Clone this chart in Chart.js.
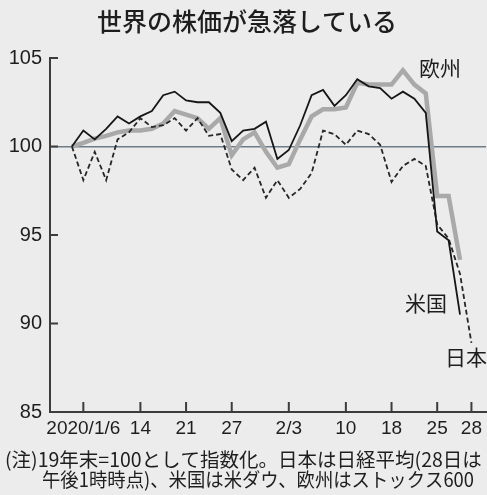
<!DOCTYPE html>
<html>
<head>
<meta charset="utf-8">
<script src="https://cdn.jsdelivr.net/npm/chart.js@4"></script>
<style>
  html, body { margin: 0; padding: 0; background: #ececec; }
  #wrap { width: 487px; height: 495px; position: relative; }
</style>
</head>
<body>
<div id="wrap"><canvas id="c" width="487" height="495"></canvas></div>
<script>
// trading days (common to JP/US), first = 19年末
const dates = ['12/30', '1/6', '1/7', '1/8', '1/9', '1/10', '1/14', '1/15', '1/16', '1/17',
  '1/21', '1/22', '1/23', '1/24', '1/27', '1/28', '1/29', '1/30', '1/31',
  '2/3', '2/4', '2/5', '2/6', '2/7', '2/10', '2/12', '2/13', '2/14',
  '2/18', '2/19', '2/20', '2/21', '2/25', '2/26', '2/27', '2/28'];

const tickDates  = ['1/6', '1/14', '1/21', '1/27', '2/3', '2/10', '2/18', '2/25', '2/28'];
const tickLabels = ['2020/1/6', '14', '21', '27', '2/3', '10', '18', '25', '28'];
const yTicks = [85, 90, 95, 100, 105];

const japan = [100, 98.1, 99.7, 98.1, 100.4, 100.8, 101.6, 101.1, 101.2, 101.6,
  100.9, 101.6, 100.6, 100.7, 98.7, 98.1, 98.8, 97.1, 98.1,
  97.1, 97.6, 98.5, 100.9, 100.7, 100.1, 100.9, 100.7, 100.1,
  98.0, 98.9, 99.3, 98.9, 95.6, 94.8, 92.8, 88.9];

const usa = [100, 100.9, 100.4, 101.0, 101.7, 101.3, 101.7, 102.0, 102.9, 103.1,
  102.6, 102.5, 102.5, 101.9, 100.3, 100.9, 101.0, 101.4, 99.3,
  99.8, 101.2, 102.9, 103.2, 102.3, 102.9, 103.8, 103.4, 103.3,
  102.7, 103.1, 102.7, 101.9, 95.2, 94.7, 90.5, null];

const europe = [100, 100.2, 100.45, 100.6, 100.8, 100.9, 100.9, 101.0, 101.3, 102.0,
  101.8, 101.6, 101.0, 101.6, 99.5, 100.4, 100.8, 99.7, 98.8,
  99.0, 100.4, 101.7, 102.1, 102.1, 102.2, 103.6, 103.5, 103.5,
  103.5, 104.3, 103.5, 103.0, 97.2, 97.2, 93.6, null];

const seriesNames = ['欧州', '米国', '日本'];

const INK = '#1e1e1e';
const AXIS = '#3c3c3c';
const REF = '#6d7c88';
const JP_FONT = '"Noto Sans CJK JP", "Noto Sans", sans-serif';
const NUM_FONT = '"Liberation Sans", Arial, sans-serif';

const pts = arr => arr.map((v, i) => ({ x: i, y: v }));

const overlay = {
  id: 'overlay',
  afterDraw(chart) {
    const { ctx, chartArea: a, scales: { x, y } } = chart;
    ctx.save();
    // inward tick marks
    ctx.strokeStyle = AXIS;
    ctx.lineWidth = 2;
    yTicks.forEach(v => {
      const py = y.getPixelForValue(v);
      ctx.beginPath(); ctx.moveTo(a.left, py); ctx.lineTo(a.left + 8, py); ctx.stroke();
    });
    tickDates.forEach(d => {
      const px = x.getPixelForValue(dates.indexOf(d));
      ctx.beginPath(); ctx.moveTo(px, a.bottom); ctx.lineTo(px, a.bottom - 10); ctx.stroke();
    });

    ctx.fillStyle = INK;
    ctx.textBaseline = 'middle';
    // title
    ctx.textAlign = 'center';
    ctx.font = '500 25px ' + JP_FONT;
    ctx.fillText('世界の株価が急落している', 247, 21);
    // series labels
    ctx.font = '21px ' + JP_FONT;
    ctx.fillText(seriesNames[0], 440, 68);
    ctx.fillText(seriesNames[1], 426, 303);
    ctx.fillText(seriesNames[2], 466, 357);
    // note
    ctx.textAlign = 'left';
    ctx.font = '19.5px ' + JP_FONT;
    ctx.fillText('(注)19年末=100として指数化。日本は日経平均(28日は', 5, 460, 478);
    ctx.fillText('午後1時時点)、米国は米ダウ、欧州はストックス600', 42, 480, 432);
    ctx.restore();
  }
};

new Chart(document.getElementById('c'), {
  type: 'line',
  data: {
    datasets: [
      { label: seriesNames[1], data: pts(usa), borderColor: '#161616', borderWidth: 1.8, order: 1 },
      { label: seriesNames[2], data: pts(japan), borderColor: '#262626', borderWidth: 1.8, borderDash: [5, 3], order: 2 },
      { label: seriesNames[0], data: pts(europe), borderColor: '#a9a9a9', borderWidth: 4.5, order: 3 },
    ],
  },
  options: {
    responsive: false,
    animation: false,
    layout: { padding: { top: 58, right: 0, left: 0, bottom: 0 } },
    elements: { point: { radius: 0 }, line: { tension: 0, borderJoinStyle: 'miter' } },
    plugins: { legend: { display: false }, tooltip: { enabled: false } },
    scales: {
      x: {
        type: 'linear', min: -1.92, max: 36.28,
        afterBuildTicks: s => { s.ticks = tickDates.map(d => ({ value: dates.indexOf(d) })); },
        afterFit: s => { s.height = 83; },
        ticks: {
          autoSkip: false, maxRotation: 0, padding: 5, color: INK,
          font: { family: NUM_FONT, size: 19 },
          callback: v => tickLabels[tickDates.indexOf(dates[v])],
        },
        grid: { display: false, drawTicks: false },
        border: { display: true, color: AXIS, width: 2 },
      },
      y: {
        min: 85, max: 105,
        afterBuildTicks: s => { s.ticks = yTicks.map(v => ({ value: v })); },
        afterFit: s => { s.width = 50; },
        ticks: { padding: 8, color: INK, font: { family: NUM_FONT, size: 20 } },
        grid: {
          drawTicks: false, lineWidth: 1.6,
          color: c => (c.tick && c.tick.value === 100 ? REF : 'transparent'),
        },
        border: { display: true, color: AXIS, width: 2 },
      },
    },
  },
  plugins: [overlay],
});
</script>
</body>
</html>
